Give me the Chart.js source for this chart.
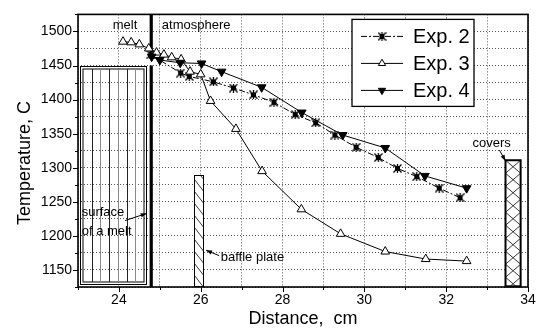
<!DOCTYPE html>
<html><head><meta charset="utf-8">
<style>html,body{margin:0;padding:0;background:#fff}#wrap{width:546px;height:328px}</style>
<script src="https://cdn.jsdelivr.net/npm/chart.js@4.4.0/dist/chart.umd.min.js"></script>
</head><body><div id="wrap"><canvas id="c" width="546" height="328"></canvas></div>
<script>
// ---- data ----
const exp2X = [24.78, 25.51, 25.72, 26.31, 26.8, 27.29, 27.79, 28.31, 28.81, 29.28, 29.8, 30.34, 30.81, 31.28, 31.83, 32.34];
const exp2Y = [1466, 1439, 1434, 1426, 1417, 1407, 1396, 1378, 1366, 1348, 1330, 1315, 1299, 1287, 1270, 1256];
const exp3X = [24.1, 24.3, 24.5, 24.73, 24.92, 25.1, 25.29, 25.52, 25.74, 26.0, 26.24, 26.86, 27.5, 28.46, 29.42, 30.51, 31.5, 32.5];
const exp3Y = [1485, 1484, 1481, 1475, 1469, 1466, 1462, 1459, 1441, 1437, 1398, 1357, 1295, 1239, 1203, 1177, 1166, 1163];
const exp4X = [24.8, 25.0, 25.5, 26.02, 26.51, 27.49, 28.47, 29.47, 30.51, 31.48, 32.5];
const exp4Y = [1463, 1458, 1454, 1453, 1441, 1418, 1381, 1348, 1329, 1288, 1270];
const seriesNames = ['Exp. 2', 'Exp. 3', 'Exp. 4'];
const xTickLabels = [24, 26, 28, 30, 32, 34];
const yTickLabels = [1150, 1200, 1250, 1300, 1350, 1400, 1450, 1500];
const xRange = [23, 34];
const yRange = [1125, 1525];

// annotation shapes in data units
const MELT = {x0: 23.04, x1: 24.67, y0: 1129, y1: 1450};
const SURFACE_X = 24.79;
const BAFFLE = {x0: 25.84, x1: 26.06, y0: 1126, y1: 1290};
const COVERS = {x0: 33.45, x1: 33.82, y0: 1126, y1: 1311};

const FONT = '"Liberation Sans", Arial, sans-serif';

function pair(xs, ys){ return xs.map((v,i)=>({x:v, y:ys[i]})); }

// asterisk-square marker for Exp. 2
const starMark = document.createElement('canvas');
starMark.width = 9; starMark.height = 9;
(function(){
  const g = starMark.getContext('2d');
  g.fillStyle = '#000'; g.strokeStyle = '#000'; g.lineWidth = 1.3;
  g.fillRect(2, 2, 5, 5);
  g.beginPath(); g.moveTo(0.5,0.5); g.lineTo(8.5,8.5); g.moveTo(8.5,0.5); g.lineTo(0.5,8.5);
  g.moveTo(4.5,0); g.lineTo(4.5,9); g.stroke();
})();

const datasets = [
  {label: seriesNames[0], data: pair(exp2X, exp2Y), showLine: true, borderColor: '#000', borderWidth: 1,
   borderDash: [6,2,2,2], pointStyle: starMark, pointRadius: 4, backgroundColor: '#000', order: 3},
  {label: seriesNames[1], data: pair(exp3X, exp3Y), showLine: true, borderColor: '#000', borderWidth: 1,
   pointStyle: 'triangle', pointRadius: 5, pointBorderWidth: 1, pointBackgroundColor: '#fff', pointBorderColor: '#000', order: 2},
  {label: seriesNames[2], data: pair(exp4X, exp4Y), showLine: true, borderColor: '#000', borderWidth: 1,
   pointStyle: 'triangle', pointRotation: 180, pointRadius: 5, pointBorderWidth: 1, pointBackgroundColor: '#000', pointBorderColor: '#000', order: 1}
];

function arrow(ctx, x0, y0, x1, y1){
  ctx.beginPath(); ctx.moveTo(x0, y0); ctx.lineTo(x1, y1); ctx.stroke();
  const a = Math.atan2(y1-y0, x1-x0), L = 6, W = 2.2;
  ctx.beginPath();
  ctx.moveTo(x1, y1);
  ctx.lineTo(x1 - L*Math.cos(a) + W*Math.sin(a), y1 - L*Math.sin(a) - W*Math.cos(a));
  ctx.lineTo(x1 - L*Math.cos(a) - W*Math.sin(a), y1 - L*Math.sin(a) + W*Math.cos(a));
  ctx.closePath(); ctx.fill();
}

const annot = {
  id: 'annot',
  beforeDatasetsDraw(chart){
    const {ctx, scales:{x, y}} = chart;
    const X = v => x.getPixelForValue(v), Y = v => y.getPixelForValue(v);
    ctx.save();
    ctx.strokeStyle = '#000'; ctx.fillStyle = '#000';
    // melt block: double border with vertical hatch
    let l = Math.round(X(MELT.x0)) + .5, r = Math.round(X(MELT.x1)) + .5, t = Math.round(Y(MELT.y1)) + .5, b = Math.round(Y(MELT.y0)) + .5;
    ctx.lineWidth = 1;
    ctx.strokeRect(l, t, r - l, b - t);
    ctx.strokeRect(l + 2.5, t + 2.5, r - l - 5, b - t - 5);
    for (let k = 1; k <= 6; k++){
      const px = Math.round(l + 2.5 + (r - l - 5) * k / 7) + .5;
      ctx.strokeStyle = (k % 2) ? '#222' : '#8a8a8a';
      ctx.beginPath(); ctx.moveTo(px, t + 2.5); ctx.lineTo(px, b - 2.5); ctx.stroke();
    }
    ctx.strokeStyle = '#000';
    // thick surface line
    const sx = X(SURFACE_X);
    ctx.lineWidth = 3.2;
    ctx.beginPath(); ctx.moveTo(sx, Y(yRange[1])); ctx.lineTo(sx, Y(1470));
    ctx.moveTo(sx, Y(1450)); ctx.lineTo(sx, Y(yRange[0])); ctx.stroke();
    // baffle plate: diagonal hatch
    l = Math.round(X(BAFFLE.x0)) + .5; r = Math.round(X(BAFFLE.x1)) + .5; t = Math.round(Y(BAFFLE.y1)) + .5; b = Math.round(Y(BAFFLE.y0)) + .5;
    ctx.fillStyle = '#fff'; ctx.fillRect(l, t, r - l, b - t);
    ctx.save(); ctx.beginPath(); ctx.rect(l, t, r - l, b - t); ctx.clip();
    ctx.lineWidth = 0.9; ctx.strokeStyle = '#222';
    for (let o = t - 20; o < b + 5; o += 12){
      ctx.beginPath(); ctx.moveTo(l, o); ctx.lineTo(r, o + (r - l) * 1.3); ctx.stroke();
    }
    ctx.restore();
    ctx.lineWidth = 1; ctx.strokeStyle = '#000'; ctx.strokeRect(l, t, r - l, b - t);
    // covers: cross hatch
    l = X(COVERS.x0); r = X(COVERS.x1); t = Y(COVERS.y1); b = Y(COVERS.y0);
    ctx.fillStyle = '#fff'; ctx.fillRect(l, t, r - l, b - t);
    ctx.save(); ctx.beginPath(); ctx.rect(l, t, r - l, b - t); ctx.clip();
    ctx.lineWidth = 0.9; ctx.strokeStyle = '#222';
    for (let o = t - 13; o < b + 13; o += 13){
      ctx.beginPath(); ctx.moveTo(l, o); ctx.lineTo(r, o + 13); ctx.moveTo(l, o + 13); ctx.lineTo(r, o); ctx.stroke();
    }
    ctx.restore();
    ctx.lineWidth = 2; ctx.strokeStyle = '#000'; ctx.strokeRect(l, t, r - l, b - t);
    // texts
    ctx.fillStyle = '#000';
    ctx.font = '13px ' + FONT; ctx.textBaseline = 'middle';
    ctx.textAlign = 'center'; ctx.fillText('melt', X(24.15), Y(1509));
    ctx.textAlign = 'left'; ctx.fillText('atmosphere', X(25.05), Y(1509));
    ctx.fillText('surface', X(23.09), Y(1234));
    ctx.fillText('of a melt', X(23.09), Y(1207));
    ctx.fillText('baffle plate', X(26.49), Y(1169));
    ctx.textAlign = 'center'; ctx.fillText('covers', X(33.11), Y(1335));
    ctx.lineWidth = 1;
    arrow(ctx, X(24.15), Y(1222.5), X(24.68), Y(1233));
    arrow(ctx, X(26.45), Y(1171), X(26.13), Y(1179));
    arrow(ctx, X(33.3), Y(1326), X(33.45), Y(1310));
    ctx.restore();
  },
  afterDraw(chart){
    const {ctx, chartArea: a, scales:{x, y}} = chart;
    ctx.save();
    ctx.strokeStyle = '#000';
    // tick marks (outward), major and minor
    ctx.lineWidth = 1;
    for (let v = xRange[0]; v <= xRange[1]; v += 1){
      const px = Math.round(x.getPixelForValue(v)) + .5;
      const len = (v % 2 === 0) ? 5 : 3;
      ctx.beginPath(); ctx.moveTo(px, a.bottom); ctx.lineTo(px, a.bottom + len); ctx.stroke();
    }
    for (let v = yRange[0]; v <= yRange[1]; v += 25){
      const py = Math.round(y.getPixelForValue(v)) + .5;
      const len = (v % 50 === 0) ? 5 : 3;
      ctx.beginPath(); ctx.moveTo(a.left, py); ctx.lineTo(a.left - len, py); ctx.stroke();
    }
    // frame
    ctx.lineWidth = 1.6;
    ctx.strokeRect(a.left, a.top, a.right - a.left, a.bottom - a.top);
    // axis titles
    ctx.fillStyle = '#000';
    ctx.font = '18px ' + FONT; ctx.textAlign = 'center'; ctx.textBaseline = 'middle';
    ctx.fillText('Distance,  cm', (a.left + a.right) / 2, 319);
    ctx.save(); ctx.translate(25, 163); ctx.rotate(-Math.PI / 2);
    ctx.fillText('Temperature, C', 0, 0); ctx.restore();
    // legend box
    const bx = a.left + 274, by = a.top + 5, bw = 122, bh = 87;
    ctx.fillStyle = '#fff'; ctx.fillRect(bx, by, bw, bh);
    ctx.lineWidth = 1.3; ctx.strokeStyle = '#000'; ctx.strokeRect(bx, by, bw, bh);
    chart.data.datasets.forEach((ds, i) => {
      const ry = by + 17 + i * 27;
      ctx.save();
      ctx.lineWidth = 1; ctx.strokeStyle = '#000';
      ctx.setLineDash(ds.borderDash || []);
      ctx.beginPath(); ctx.moveTo(bx + 9, ry); ctx.lineTo(bx + 51, ry); ctx.stroke();
      ctx.setLineDash([]);
      ctx.fillStyle = ds.pointBackgroundColor || '#000';
      ctx.strokeStyle = '#000';
      Chart.helpers.drawPoint(ctx, {pointStyle: ds.pointStyle, radius: i === 0 ? 4 : 4.2, rotation: ds.pointRotation || 0, borderWidth: 1}, bx + 30, ry);
      ctx.restore();
      ctx.fillStyle = '#000'; ctx.font = '20px ' + FONT; ctx.textAlign = 'left'; ctx.textBaseline = 'middle';
      ctx.fillText(ds.label, bx + 61, ry + 1);
    });
    ctx.restore();
  }
};

new Chart(document.getElementById('c'), {
  type: 'scatter',
  data: {datasets},
  options: {
    responsive: false, animation: false, devicePixelRatio: 1,
    layout: {padding: {left: 0, top: 10, right: 18, bottom: 0}},
    plugins: {legend: {display: false}, tooltip: {enabled: false}},
    scales: {
      x: {
        type: 'linear', min: xRange[0], max: xRange[1],
        afterFit(s){ s.height = 41; },
        afterBuildTicks(s){ s.ticks = []; for (let v = xRange[0]; v <= xRange[1]; v++) s.ticks.push({value: v}); },
        ticks: {color: '#000', font: {family: FONT, size: 14}, padding: 5, maxRotation: 0, autoSkip: false,
          callback: v => xTickLabels.includes(v) ? String(v) : ''},
        grid: {color: '#555', lineWidth: 1, drawTicks: false},
        border: {display: false, dash: [1, 2]}
      },
      y: {
        type: 'linear', min: yRange[0], max: yRange[1],
        afterFit(s){ s.width = 78; },
        afterBuildTicks(s){ s.ticks = []; for (let v = yRange[0]; v <= yRange[1]; v += 25) s.ticks.push({value: v}); },
        ticks: {color: '#000', font: {family: FONT, size: 14}, padding: 6, autoSkip: false,
          callback: v => yTickLabels.includes(v) ? String(v) : ''},
        grid: {color: '#555', lineWidth: 1, drawTicks: false},
        border: {display: false, dash: [1, 2]}
      }
    }
  },
  plugins: [annot]
});
</script></body></html>
